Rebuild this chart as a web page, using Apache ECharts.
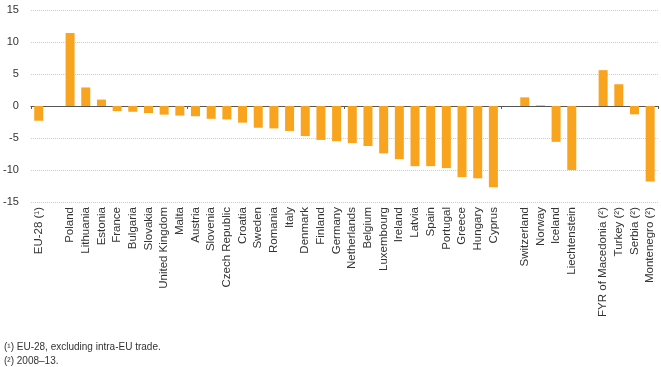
<!DOCTYPE html>
<html><head><meta charset="utf-8">
<script src="https://cdn.jsdelivr.net/npm/echarts@6/dist/echarts.min.js"></script>
<style>html,body{margin:0;padding:0;background:#fff}#c{width:661px;height:367px}</style>
</head><body><div id="c"></div>
<script>
const categories = ['EU-28 (¹)','','Poland','Lithuania','Estonia','France','Bulgaria','Slovakia','United Kingdom','Malta','Austria','Slovenia','Czech Republic','Croatia','Sweden','Romania','Italy','Denmark','Finland','Germany','Netherlands','Belgium','Luxembourg','Ireland','Latvia','Spain','Portugal','Greece','Hungary','Cyprus',' ','Switzerland','Norway','Iceland','Liechtenstein','  ','FYR of Macedonia (²)','Turkey (²)','Serbia (²)','Montenegro (²)'];
const values = [-2.3,null,11.4,2.9,1.0,-0.8,-0.9,-1.1,-1.35,-1.5,-1.6,-2.0,-2.1,-2.6,-3.4,-3.5,-3.9,-4.7,-5.3,-5.5,-5.8,-6.25,-7.4,-8.3,-9.4,-9.4,-9.7,-11.1,-11.3,-12.7,null,1.35,0.1,-5.6,-10.0,null,5.6,3.4,-1.3,-11.8];
const yTicks = {min:-15, max:15, interval:5};
const footnotes = ['(¹) EU-28, excluding intra-EU trade.','(²) 2008–13.'];

const chart = echarts.init(document.getElementById('c'));
const font = 'Liberation Sans, Arial, sans-serif';
chart.setOption({
  animation:false,
  grid:{left:30,right:3,top:10,bottom:165,containLabel:false},
  xAxis:[{
    type:'category',data:categories,
    axisLine:{onZero:true,lineStyle:{color:'#555',width:1}},
    axisTick:{show:true,length:3,lineStyle:{color:'#555'}},
    axisLabel:{show:false},
    splitLine:{show:false}
  },{
    type:'category',data:categories,position:'bottom',
    axisLine:{show:false,onZero:false},
    axisTick:{show:false},
    axisLabel:{rotate:90,interval:0,color:'#333',fontFamily:font,fontSize:11.5,margin:5}
  }],
  yAxis:{type:'value',min:yTicks.min,max:yTicks.max,interval:yTicks.interval,
    axisLine:{show:false},axisTick:{show:false},
    axisLabel:{color:'#333',fontFamily:font,fontSize:11,margin:12},
    splitLine:{lineStyle:{color:'#c8c8c8',type:'dotted',width:1}}
  },
  graphic:footnotes.map((t,i)=>({type:'text',left:4,top:342+i*14,style:{text:t,fill:'#333',font:'10px '+font}})),
  series:[{type:'bar',data:values,xAxisIndex:0,barWidth:9,itemStyle:{color:'#F9A41E'}}]
});
</script></body></html>
